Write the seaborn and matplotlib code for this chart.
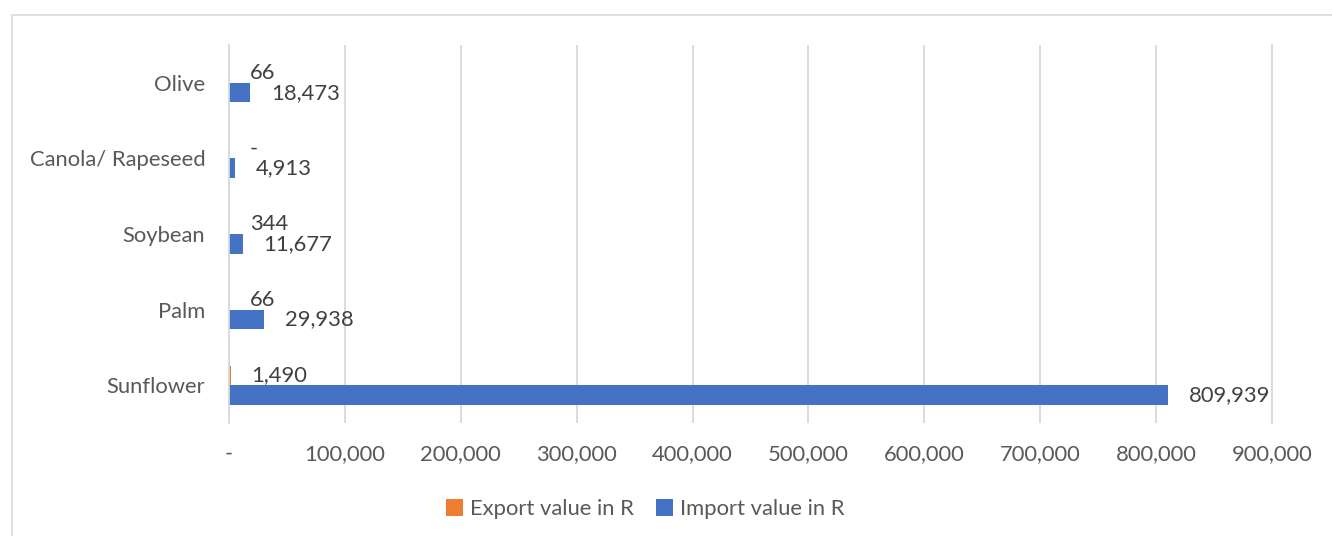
import pandas as pd
import seaborn as sns
import matplotlib.pyplot as plt
from matplotlib.patches import Rectangle, Patch
from matplotlib.ticker import FuncFormatter

# Vegetable oil trade values (Rand)
oils = ["Olive", "Canola/ Rapeseed", "Soybean", "Palm", "Sunflower"]
export_values = [66, 0, 344, 66, 1490]
import_values = [18473, 4913, 11677, 29938, 809939]
series_names = ["Export value in R", "Import value in R"]
x_ticks = [0, 100000, 200000, 300000, 400000, 500000, 600000, 700000, 800000, 900000]

colors = {"Export value in R": "#ED7D31", "Import value in R": "#4472C4"}
grid_color = "#D9D9D9"
text_color = "#595959"
label_color = "#404040"
fs = 15.8

sns.set_theme(style="white")
plt.rcParams["font.family"] = ["Lato", "DejaVu Sans"]

df = pd.DataFrame({
    "Oil": oils * 2,
    "Series": [series_names[0]] * len(oils) + [series_names[1]] * len(oils),
    "Value": export_values + import_values,
})

W, H = 1332, 536
fig = plt.figure(figsize=(W / 100, H / 100), dpi=100)
ax = fig.add_axes([229 / W, 1 - 423 / H, (1272 - 229) / W, (423 - 45) / H])

sns.barplot(data=df, y="Oil", x="Value", hue="Series", order=oils,
            hue_order=series_names, palette=colors, orient="h", width=0.52,
            saturation=1, linewidth=0, legend=False, ax=ax)


def fmt(v):
    return "-" if v == 0 else f"{v:,.0f}"


for container, vals in zip(ax.containers, [export_values, import_values]):
    ax.bar_label(container, labels=[fmt(v) for v in vals], padding=15,
                 fontsize=fs, color=label_color)

ax.set_xlim(0, 900000)
ax.set_xticks(x_ticks)
ax.xaxis.set_major_formatter(FuncFormatter(lambda v, p: fmt(v)))
ax.xaxis.grid(True, color=grid_color, linewidth=1.3)
ax.set_axisbelow(True)
for side in ["top", "bottom"]:
    ax.spines[side].set_visible(False)
for side in ["left", "right"]:
    ax.spines[side].set_color(grid_color)
    ax.spines[side].set_linewidth(1.3)
ax.tick_params(axis="both", length=0, labelsize=fs, labelcolor=text_color)
ax.tick_params(axis="x", pad=15)
ax.tick_params(axis="y", pad=17)
ax.set_xlabel("")
ax.set_ylabel("")

handles = [Patch(facecolor=colors[s], edgecolor="none", label=s) for s in series_names]
fig.legend(handles=handles, loc="center", bbox_to_anchor=(645 / W, 1 - 509 / H),
           ncol=2, frameon=False, fontsize=fs, labelcolor=text_color,
           handlelength=0.8, handleheight=0.8, handletextpad=0.3, columnspacing=1.0)

# chart area border
fig.patches.append(Rectangle((12 / W, -0.1), 1.2, 1 - 15 / H + 0.1,
                             transform=fig.transFigure, fill=False,
                             edgecolor=grid_color, linewidth=1.2))

fig.savefig("out.png", dpi=100, facecolor="white")
